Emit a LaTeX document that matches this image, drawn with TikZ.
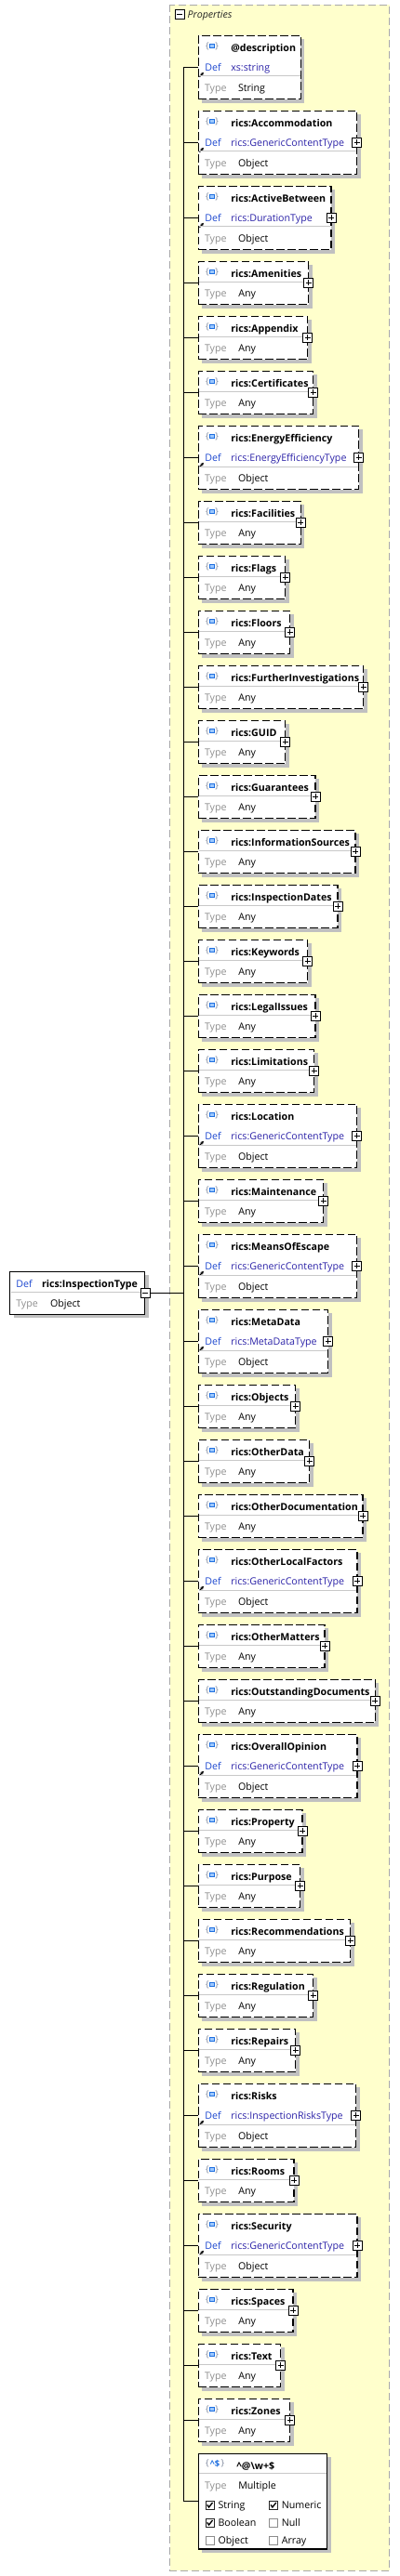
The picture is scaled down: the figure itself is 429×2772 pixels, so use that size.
\documentclass[tikz,border=0pt]{standalone}
\usepackage{fontspec}
\setmainfont{Open Sans}
\usetikzlibrary{calc,shadows,arrows.meta}
\definecolor{panelfill}{HTML}{FFFFCC}
\definecolor{panelline}{HTML}{A8A8A8}
\definecolor{shadowgray}{HTML}{C0C0C0}
\definecolor{deflabel}{HTML}{1D48D0}
\definecolor{defval}{HTML}{2B22A8}
\definecolor{typelabel}{HTML}{8E8E8E}
\definecolor{sepgray}{HTML}{C8C8C8}
\definecolor{bracegray}{HTML}{7A8499}
\definecolor{iconblue}{HTML}{1E6FE0}
\definecolor{iconfill}{HTML}{9CC8FF}
\newcommand\dfont{\fontsize{8}{9}\selectfont}
\tikzset{
  every node/.style={inner sep=0pt, outer sep=0pt},
  txt/.style={anchor=base west, font=\dfont},
  nametxt/.style={anchor=base west, font=\dfont\bfseries},
  bracetxt/.style={anchor=center, font=\fontsize{7}{8}\selectfont, text=bracegray},
  boxshadow/.style={drop shadow={shadow xshift=3pt, shadow yshift=-3pt, fill=shadowgray, opacity=1}},
  propbox/.style={draw=black, line width=1.1pt, dash pattern=on 6.5pt off 2.5pt, fill=white, anchor=north west, boxshadow},
  solidbox/.style={draw=black, line width=1pt, fill=white, anchor=north west, boxshadow},
  sepline/.style={draw=sepgray, line width=0.75pt},
  conn/.style={draw=black, line width=0.8pt},
  btn/.style={draw=black, fill=white, line width=0.75pt, minimum size=7.5pt},
  chkon/.style={draw=black!85, fill=white, line width=0.75pt, minimum size=6.75pt},
  chkoff/.style={draw=black!45, fill=white, line width=0.75pt, minimum size=6.75pt},
}
\newcommand\plusmark[1]{\draw[line width=0.75pt] ($(#1.center)+(-3,0)$) -- ($(#1.center)+(3,0)$) ($(#1.center)+(0,-3)$) -- ($(#1.center)+(0,3)$);}
\newcommand\minusmark[1]{\draw[line width=0.75pt] ($(#1.center)+(-3,0)$) -- ($(#1.center)+(3,0)$);}
\newcommand\plusbtn[1]{\node[btn] (#1-plus) at (#1.east) {};\plusmark{#1-plus}}
\newcommand\mkbox[5]{%
  \pgfmathsetmacro\bxw{(#3-213.3)*0.75}%
  \pgfmathsetmacro\bxh{#4*0.75}%
  \node[#5, minimum width=\bxw pt, minimum height=\bxh pt] (#1) at (213.3,#2) {};%
  \draw[conn] (#1.west -| trunk) -- (#1.west);%
}
\newcommand\headicon[1]{%
  \node[bracetxt] (#1-lb) at ($(#1.north west)+(9.6,11.2)$) {\{};
  \node[bracetxt] (#1-rb) at ($(#1.north west)+(19.9,11.2)$) {\}};
  \draw[iconblue, fill=iconfill, line width=0.75pt] ($(#1.north west)+(12,9.1)$) rectangle ($(#1.north west)+(17.3,13.4)$);
}
\newcommand\threebox[7]{%
  \mkbox{#1}{#2}{#3}{68.3}{propbox}
  \headicon{#1}
  \node[nametxt] (#1-name) at ($(#1.north west)+(35,17.3)$) {#4};
  \node[txt, text=deflabel] (#1-deflab) at ($(#1.north west)+(7,38.4)$) {Def};
  \draw[-{Stealth[length=2.6pt,width=2.8pt]}, line width=0.9pt] ($(#1.north west)+(1.2,44.3)$) -- ($(#1.north west)+(5.6,39.6)$);
  \node[txt, text=defval] (#1-def) at ($(#1.north west)+(35,38.4)$) {#5};
  \draw[sepline] ($(#1.north west)+(0.8,43.7)$) -- ($(#1.north east)+(-0.8,43.7)$);
  \node[txt, text=typelabel] (#1-tlab) at ($(#1.north west)+(6.7,60.6)$) {Type};
  \node[txt] (#1-type) at ($(#1.north west)+(42.7,60.6)$) {#6};
  \ifnum#7=1 \plusbtn{#1}\fi
}
\newcommand\twobox[4]{%
  \mkbox{#1}{#2}{#3}{46.3}{propbox}
  \headicon{#1}
  \node[nametxt] (#1-name) at ($(#1.north west)+(35,17.3)$) {#4};
  \draw[sepline] ($(#1.north west)+(0.8,21.7)$) -- ($(#1.north east)+(-0.8,21.7)$);
  \node[txt, text=typelabel] (#1-tlab) at ($(#1.north west)+(6.7,38.5)$) {Type};
  \node[txt] (#1-type) at ($(#1.north west)+(43,38.5)$) {Any};
  \plusbtn{#1}
}
\newcommand\chkitem[6]{%
  \node[#5] (#1) at ($(b41.north west)+(#2,#3)$) {};
  \ifnum#6=1 \draw[line width=1pt] ($(#1.center)+(-2.8,-0.2)$) -- ($(#1.center)+(-0.9,2.3)$) -- ($(#1.center)+(3,-2.6)$);\fi
  \node[txt] (#1-lab) at ($(#1.center)+(9,4)$) {#4};
}
\begin{document}
\begin{tikzpicture}[x=0.75pt,y=-0.75pt]
\useasboundingbox (0,0) rectangle (429,2772);
% properties panel
\fill[panelfill] (182.7,5.3) rectangle (418.7,2766);
\draw[panelline, line width=0.75pt, dash pattern=on 6pt off 3pt] (182.7,5.3) rectangle (418.7,2766);
\node[btn] (propbtn) at (193,15.7) {};
\minusmark{propbtn}
\node[txt, font=\dfont\itshape, text=black!85] (proptitle) at (201.5,19.2) {Properties};
\coordinate (trunk) at (197.7,1391.7);
% main type box
\node[solidbox, minimum width=108.75pt, minimum height=34.5pt] (main) at (10.7,1368.3) {};
\node[txt, text=deflabel] (main-deflab) at ($(main.north west)+(6.6,17.3)$) {Def};
\node[nametxt] (main-name) at ($(main.north west)+(34.3,17.3)$) {rics:InspectionType};
\draw[sepline] ($(main.north west)+(0.8,21.7)$) -- ($(main.north east)+(-0.8,21.7)$);
\node[txt, text=typelabel] (main-tlab) at ($(main.north west)+(6.6,38.5)$) {Type};
\node[txt] (main-type) at ($(main.north west)+(43.3,38.5)$) {Object};
\node[btn] (main-minus) at ($(main.east)+(0.6,0.3)$) {};
\minusmark{main-minus}
% property boxes
\threebox{b1}{38.3}{323.3}{@description}{xs:string}{String}{0}
\threebox{b2}{119.3}{383.7}{rics:Accommodation}{rics:GenericContentType}{Object}{1}
\threebox{b3}{200.3}{356}{rics:ActiveBetween}{rics:DurationType}{Object}{1}
\twobox{b4}{281.3}{331.7}{rics:Amenities}
\twobox{b5}{340.3}{330.7}{rics:Appendix}
\twobox{b6}{399.3}{336.7}{rics:Certificates}
\threebox{b7}{458.3}{385.7}{rics:EnergyEfficiency}{rics:EnergyEfficiencyType}{Object}{1}
\twobox{b8}{539.3}{323.3}{rics:Facilities}
\twobox{b9}{598.3}{306.7}{rics:Flags}
\twobox{b10}{657.3}{311.7}{rics:Floors}
\twobox{b11}{716.3}{390.7}{rics:FurtherInvestigations}
\twobox{b12}{775.3}{306.7}{rics:GUID}
\twobox{b13}{834.3}{339}{rics:Guarantees}
\twobox{b14}{893.3}{382}{rics:InformationSources}
\twobox{b15}{952.3}{363}{rics:InspectionDates}
\twobox{b16}{1011.3}{330.7}{rics:Keywords}
\twobox{b17}{1070.3}{339}{rics:LegalIssues}
\twobox{b18}{1129.3}{337.7}{rics:Limitations}
\threebox{b19}{1188.3}{383.7}{rics:Location}{rics:GenericContentType}{Object}{1}
\twobox{b20}{1269.3}{347.7}{rics:Maintenance}
\threebox{b21}{1328.3}{383.7}{rics:MeansOfEscape}{rics:GenericContentType}{Object}{1}
\threebox{b22}{1409.3}{352.7}{rics:MetaData}{rics:MetaDataType}{Object}{1}
\twobox{b23}{1490.3}{317.7}{rics:Objects}
\twobox{b24}{1549.3}{332.7}{rics:OtherData}
\twobox{b25}{1608.3}{390}{rics:OtherDocumentation}
\threebox{b26}{1667.3}{384}{rics:OtherLocalFactors}{rics:GenericContentType}{Object}{1}
\twobox{b27}{1748.3}{349}{rics:OtherMatters}
\twobox{b28}{1807.3}{403.3}{rics:OutstandingDocuments}
\threebox{b29}{1866.3}{384}{rics:OverallOpinion}{rics:GenericContentType}{Object}{1}
\twobox{b30}{1947.3}{325}{rics:Property}
\twobox{b31}{2006.3}{322.7}{rics:Purpose}
\twobox{b32}{2065.3}{376.7}{rics:Recommendations}
\twobox{b33}{2124.3}{336.7}{rics:Regulation}
\twobox{b34}{2183.3}{317.7}{rics:Repairs}
\threebox{b35}{2242.3}{382.7}{rics:Risks}{rics:InspectionRisksType}{Object}{1}
\twobox{b36}{2323.3}{316}{rics:Rooms}
\threebox{b37}{2382.3}{384}{rics:Security}{rics:GenericContentType}{Object}{1}
\twobox{b38}{2463.3}{315}{rics:Spaces}
\twobox{b39}{2522.3}{301.7}{rics:Text}
\twobox{b40}{2581.3}{311.7}{rics:Zones}
% pattern property box
\mkbox{b41}{2640.3}{351.7}{102.6}{solidbox}
\node[bracetxt] (b41-lb) at ($(b41.north west)+(9.6,11)$) {\{};
\node[anchor=center, font=\fontsize{7}{8}\selectfont\bfseries, text=iconblue] (b41-ic) at ($(b41.north west)+(17.8,11)$) {\textasciicircum\$};
\node[bracetxt] (b41-rb) at ($(b41.north west)+(26,11)$) {\}};
\node[nametxt] (b41-name) at ($(b41.north west)+(41,17.3)$) {\textasciicircum @\textbackslash w+\$};
\draw[sepline] ($(b41.north west)+(0.8,21.3)$) -- ($(b41.north east)+(-0.8,21.3)$);
\node[txt, text=typelabel] (b41-tlab) at ($(b41.north west)+(6.7,38.5)$) {Type};
\node[txt] (b41-type) at ($(b41.north west)+(43,38.5)$) {Multiple};
\chkitem{c1}{12.2}{55.3}{String}{chkon}{1}
\chkitem{c2}{80.5}{55.3}{Numeric}{chkon}{1}
\chkitem{c3}{12.2}{74.3}{Boolean}{chkon}{1}
\chkitem{c4}{80.5}{74.3}{Null}{chkoff}{0}
\chkitem{c5}{12.2}{93.3}{Object}{chkoff}{0}
\chkitem{c6}{80.5}{93.3}{Array}{chkoff}{0}
% trunk and main connector
\draw[conn] (b1.west -| trunk) -- (b41.west -| trunk);
\draw[conn] (main-minus.east) -- (main-minus.east -| trunk);
\end{tikzpicture}
\end{document}
